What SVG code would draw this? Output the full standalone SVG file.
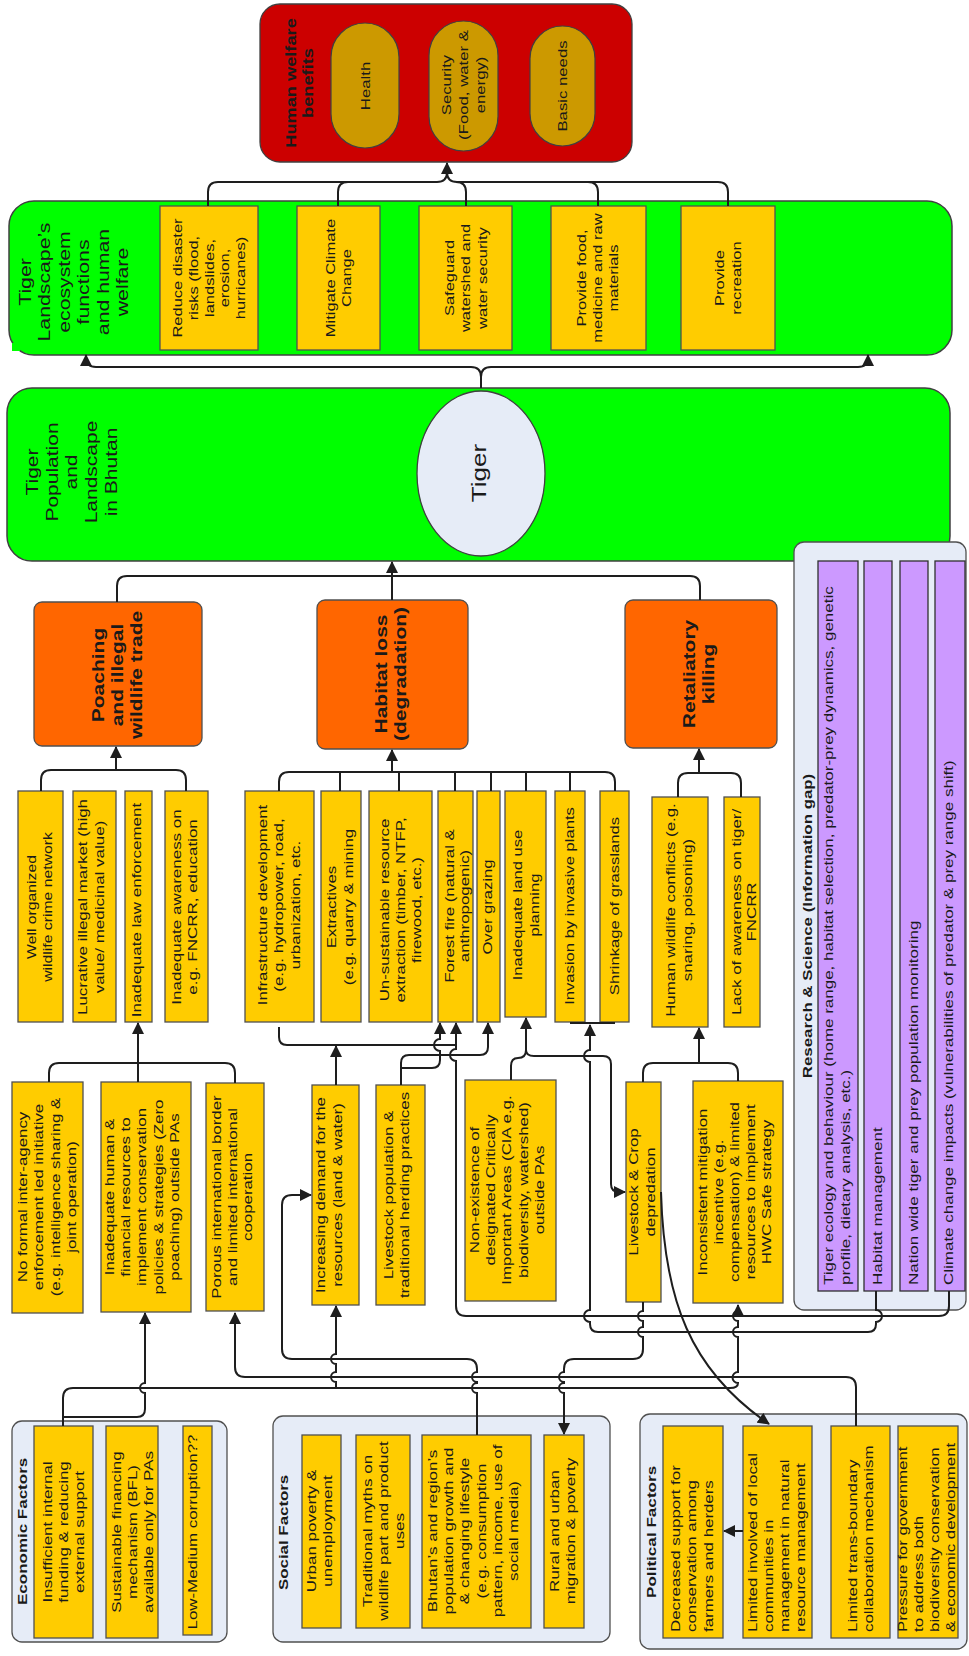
<svg xmlns="http://www.w3.org/2000/svg" width="969" height="1656" viewBox="0 0 969 1656">
<defs>
<marker id="ah" markerUnits="userSpaceOnUse" markerWidth="12" markerHeight="12" viewBox="0 0 12 12" refX="11" refY="6" orient="auto"><path d="M0,0 L12,6 L0,12 z" fill="#1e1e1e"/></marker>
</defs>
<style>
.t{font-family:"Liberation Sans",Arial,sans-serif;fill:#1a1a1a}
.bd{font-weight:bold}
.y{fill:#ffcc00;stroke:#505050;stroke-width:1.3}
.g{fill:#00ff00;stroke:#404040;stroke-width:1.5}
.pan{fill:#e6ecf7;stroke:#505050;stroke-width:1.3}
.o{fill:#ff6600;stroke:#505050;stroke-width:1.3}
.p{fill:#cc99ff;stroke:#303030;stroke-width:1.3}
.pill{fill:#cc9900;stroke:#404040;stroke-width:1.2}
.c{fill:none;stroke:#1e1e1e;stroke-width:2}
.a{marker-end:url(#ah)}
</style>
<rect width="969" height="1656" fill="#ffffff"/>

<!-- Human welfare benefits -->
<g id="human-welfare">
<rect x="260" y="4" width="372" height="158" rx="20" fill="#cc0000" stroke="#404040" stroke-width="1.3"/>
<text class="t bd" font-size="15.2" text-anchor="middle" transform="translate(295.5,83) rotate(-90) scale(1.2,1)"><tspan x="0" y="0">Human welfare</tspan><tspan x="0" y="18">benefits</tspan></text>
<rect class="pill" x="331" y="23" width="68" height="125" rx="34"/>
<text class="t" font-size="13.4" text-anchor="middle" transform="translate(370,86) rotate(-90) scale(1.25,1)">Health</text>
<rect class="pill" x="429" y="21" width="69" height="130" rx="34.5"/>
<text class="t" font-size="13.4" text-anchor="middle" transform="translate(451,85) rotate(-90) scale(1.25,1)"><tspan x="0" y="0">Security</tspan><tspan x="0" y="17">(Food, water &amp;</tspan><tspan x="0" y="34">energy)</tspan></text>
<rect class="pill" x="530" y="26" width="65" height="120" rx="32.5"/>
<text class="t" font-size="13.4" text-anchor="middle" transform="translate(567,86) rotate(-90) scale(1.25,1)">Basic needs</text>
</g>

<!-- Ecosystem functions -->
<g id="ecosystem">
<rect class="g" x="9" y="201" width="943" height="154" rx="25"/>
<rect x="12" y="343" width="8" height="8" fill="#00ff00"/>
<text class="t" font-size="17" text-anchor="middle" transform="translate(31,282) rotate(-90) scale(1.25,1)"><tspan x="0" y="0">Tiger</tspan><tspan x="0" y="19.5">Landscape’s</tspan><tspan x="0" y="39">ecosystem</tspan><tspan x="0" y="58.5">functions</tspan><tspan x="0" y="78">and human</tspan><tspan x="0" y="97.5">welfare</tspan></text>
</g>
<g id="eco-reduce">
<rect class="y" x="160" y="206" width="98" height="144"/>
<text class="t" font-size="13.2" text-anchor="middle" transform="translate(182,278) rotate(-90) scale(1.25,1)"><tspan x="0" y="0">Reduce  disaster</tspan><tspan x="0" y="15.8">risks (flood,</tspan><tspan x="0" y="31.6">landslides,</tspan><tspan x="0" y="47.4">erosion,</tspan><tspan x="0" y="63.2">hurricanes)</tspan></text>
</g>
<g id="eco-climate">
<rect class="y" x="297" y="206" width="83" height="144"/>
<text class="t" font-size="13.2" text-anchor="middle" transform="translate(335,278) rotate(-90) scale(1.25,1)"><tspan x="0" y="0">Mitigate Climate</tspan><tspan x="0" y="16.5">Change</tspan></text>
</g>
<g id="eco-water">
<rect class="y" x="419" y="206" width="93" height="144"/>
<text class="t" font-size="13.2" text-anchor="middle" transform="translate(454,278) rotate(-90) scale(1.25,1)"><tspan x="0" y="0">Safeguard</tspan><tspan x="0" y="16.5">watershed and</tspan><tspan x="0" y="33">water security</tspan></text>
</g>
<g id="eco-food">
<rect class="y" x="551" y="206" width="95" height="144"/>
<text class="t" font-size="13.2" text-anchor="middle" transform="translate(586,278) rotate(-90) scale(1.25,1)"><tspan x="0" y="0">Provide food,</tspan><tspan x="0" y="16">medicine and raw</tspan><tspan x="0" y="32">materials</tspan></text>
</g>
<g id="eco-recreation">
<rect class="y" x="681" y="206" width="94" height="144"/>
<text class="t" font-size="13.2" text-anchor="middle" transform="translate(724,278) rotate(-90) scale(1.25,1)"><tspan x="0" y="0">Provide</tspan><tspan x="0" y="17">recreation</tspan></text>
</g>

<!-- Tiger population -->
<g id="tiger-landscape">
<rect class="g" x="7" y="388" width="943" height="173" rx="25"/>
<text class="t" font-size="16.8" text-anchor="middle" transform="translate(38,472) rotate(-90) scale(1.25,1)"><tspan x="0" y="0">Tiger</tspan><tspan x="0" y="19.7">Population</tspan><tspan x="0" y="39.4">and</tspan><tspan x="0" y="59.1">Landscape</tspan><tspan x="0" y="78.8">in Bhutan</tspan></text>
<ellipse cx="481" cy="473.5" rx="64" ry="82.5" fill="#e6ecf7" stroke="#404040" stroke-width="1.3"/>
<text class="t" font-size="20" text-anchor="middle" transform="translate(486,473) rotate(-90) scale(1.3,1)">Tiger</text>
</g>

<!-- Research & Science -->
<g id="research">
<rect class="pan" x="794" y="542" width="172" height="768" rx="10"/>
<text class="t bd" font-size="13.5" text-anchor="middle" transform="translate(812,926) rotate(-90) scale(1.25,1)">Research &amp; Science (Information gap)</text>
<rect class="p" x="818" y="561" width="40" height="730"/>
<text class="t" font-size="13.6" transform="translate(833,1285) rotate(-90) scale(1.25,1)"><tspan x="0" y="0">Tiger ecology and behaviour (home range, habitat selection, predator-prey dynamics, genetic</tspan><tspan x="0" y="17">profile, dietary analysis, etc.)</tspan></text>
<rect class="p" x="864" y="561" width="28" height="730"/>
<text class="t" font-size="13.6" transform="translate(882,1285) rotate(-90) scale(1.25,1)">Habitat management</text>
<rect class="p" x="900" y="561" width="28" height="730"/>
<text class="t" font-size="13.6" transform="translate(918,1285) rotate(-90) scale(1.25,1)">Nation wide tiger and prey population monitoring</text>
<rect class="p" x="935" y="561" width="30" height="730"/>
<text class="t" font-size="13.6" transform="translate(953,1285) rotate(-90) scale(1.25,1)">Climate change impacts (vulnerabilities of predator &amp; prey range shift)</text>
</g>

<!-- Threats -->
<g id="poaching">
<rect class="o" x="34" y="602" width="168" height="144" rx="8"/>
<text class="t bd" font-size="16.8" text-anchor="middle" transform="translate(103.5,675) rotate(-90) scale(1.25,1)"><tspan x="0" y="0">Poaching</tspan><tspan x="0" y="19.5">and illegal</tspan><tspan x="0" y="39">wildlife trade</tspan></text>
</g>
<g id="habitat-loss">
<rect class="o" x="317" y="600" width="151" height="149" rx="8"/>
<text class="t bd" font-size="16.8" text-anchor="middle" transform="translate(386.5,674) rotate(-90) scale(1.25,1)"><tspan x="0" y="0">Habitat loss</tspan><tspan x="0" y="20">(degradation)</tspan></text>
</g>
<g id="retaliatory">
<rect class="o" x="625" y="600" width="152" height="148" rx="8"/>
<text class="t bd" font-size="16.8" text-anchor="middle" transform="translate(694.5,674) rotate(-90) scale(1.25,1)"><tspan x="0" y="0">Retaliatory</tspan><tspan x="0" y="20">killing</tspan></text>
</g>

<!-- Poaching causes -->
<g id="crime-network">
<rect class="y" x="18" y="791" width="45" height="231"/>
<text class="t" font-size="12.6" text-anchor="middle" transform="translate(36,907) rotate(-90) scale(1.25,1)"><tspan x="0" y="0">Well organized</tspan><tspan x="0" y="16">wildlife crime network</tspan></text>
</g>
<g id="illegal-market">
<rect class="y" x="73" y="791" width="43" height="231"/>
<text class="t" font-size="13.6" text-anchor="middle" transform="translate(87,907) rotate(-90) scale(1.25,1)"><tspan x="0" y="0">Lucrative illegal market (high</tspan><tspan x="0" y="17">value/ medicinal value)</tspan></text>
</g>
<g id="law-enforcement">
<rect class="y" x="125" y="791" width="27" height="231"/>
<text class="t" font-size="13.6" text-anchor="middle" transform="translate(141,910) rotate(-90) scale(1.25,1)">Inadequate law enforcement</text>
</g>
<g id="awareness">
<rect class="y" x="165" y="791" width="43" height="231"/>
<text class="t" font-size="13.6" text-anchor="middle" transform="translate(181,907) rotate(-90) scale(1.25,1)"><tspan x="0" y="0">Inadequate awareness on</tspan><tspan x="0" y="16">e.g. FNCRR, education</tspan></text>
</g>

<!-- Habitat causes -->
<g id="infrastructure">
<rect class="y" x="245" y="791" width="69" height="231"/>
<text class="t" font-size="13.5" text-anchor="middle" transform="translate(267,905) rotate(-90) scale(1.25,1)"><tspan x="0" y="0">Infrastructure development</tspan><tspan x="0" y="16.5">(e.g. hydropower, road,</tspan><tspan x="0" y="33">urbanization, etc.</tspan></text>
</g>
<g id="extractives">
<rect class="y" x="321" y="791" width="40" height="231"/>
<text class="t" font-size="13.5" text-anchor="middle" transform="translate(336,907) rotate(-90) scale(1.25,1)"><tspan x="0" y="0">Extractives</tspan><tspan x="0" y="17.5">(e.g. quarry &amp; mining</tspan></text>
</g>
<g id="extraction">
<rect class="y" x="369" y="791" width="63" height="231"/>
<text class="t" font-size="13.5" text-anchor="middle" transform="translate(389,910) rotate(-90) scale(1.25,1)"><tspan x="0" y="0">Un-sustainable resource</tspan><tspan x="0" y="16">extraction (timber, NTFP,</tspan><tspan x="0" y="32">firewood, etc.)</tspan></text>
</g>
<g id="forest-fire">
<rect class="y" x="438" y="791" width="35" height="231"/>
<text class="t" font-size="13.5" text-anchor="middle" transform="translate(454,906) rotate(-90) scale(1.25,1)"><tspan x="0" y="0">Forest fire (natural &amp;</tspan><tspan x="0" y="15.5">anthropogenic)</tspan></text>
</g>
<g id="over-grazing">
<rect class="y" x="477" y="791" width="23" height="231"/>
<text class="t" font-size="13.3" text-anchor="middle" transform="translate(492,907) rotate(-90) scale(1.25,1)">Over grazing</text>
</g>
<g id="land-use">
<rect class="y" x="505" y="791" width="41" height="226"/>
<text class="t" font-size="13.3" text-anchor="middle" transform="translate(522,905) rotate(-90) scale(1.25,1)"><tspan x="0" y="0">Inadequate land use</tspan><tspan x="0" y="17">planning</tspan></text>
</g>
<g id="invasive">
<rect class="y" x="555" y="791" width="30" height="231"/>
<text class="t" font-size="13.3" text-anchor="middle" transform="translate(574,906) rotate(-90) scale(1.25,1)">Invasion by invasive plants</text>
</g>
<g id="grasslands">
<rect class="y" x="600" y="791" width="29" height="231"/>
<text class="t" font-size="13.3" text-anchor="middle" transform="translate(619,906) rotate(-90) scale(1.25,1)">Shrinkage of grasslands</text>
</g>

<!-- Retaliatory causes -->
<g id="hwc">
<rect class="y" x="652" y="797" width="56" height="230"/>
<text class="t" font-size="13.5" text-anchor="middle" transform="translate(675,910) rotate(-90) scale(1.25,1)"><tspan x="0" y="0">Human wildlife conflicts (e.g.</tspan><tspan x="0" y="17">snaring, poisoning)</tspan></text>
</g>
<g id="lack-awareness">
<rect class="y" x="724" y="797" width="36" height="230"/>
<text class="t" font-size="13.5" text-anchor="middle" transform="translate(741,912) rotate(-90) scale(1.25,1)"><tspan x="0" y="0">Lack of awareness on tiger/</tspan><tspan x="0" y="15">FNCRR</tspan></text>
</g>

<!-- Middle row -->
<g id="no-formal">
<rect class="y" x="12" y="1082" width="71" height="231"/>
<text class="t" font-size="13.5" text-anchor="middle" transform="translate(27,1197) rotate(-90) scale(1.25,1)"><tspan x="0" y="0">No formal inter-agency</tspan><tspan x="0" y="16.3">enforcement led initiative</tspan><tspan x="0" y="32.6">(e.g. intelligence sharing &amp;</tspan><tspan x="0" y="48.9">joint operation)</tspan></text>
</g>
<g id="inadequate-resources">
<rect class="y" x="101" y="1082" width="90" height="230"/>
<text class="t" font-size="13.5" text-anchor="middle" transform="translate(114,1197) rotate(-90) scale(1.25,1)"><tspan x="0" y="0">Inadequate human &amp;</tspan><tspan x="0" y="16.2">financial resources to</tspan><tspan x="0" y="32.4">implement conservation</tspan><tspan x="0" y="48.6">policies &amp; strategies (Zero</tspan><tspan x="0" y="64.8">poaching) outside PAs</tspan></text>
</g>
<g id="porous-border">
<rect class="y" x="206" y="1083" width="58" height="228"/>
<text class="t" font-size="13.5" text-anchor="middle" transform="translate(221,1197) rotate(-90) scale(1.25,1)"><tspan x="0" y="0">Porous international border</tspan><tspan x="0" y="15.7">and limited international</tspan><tspan x="0" y="31.4">cooperation</tspan></text>
</g>
<g id="increasing-demand">
<rect class="y" x="312" y="1085" width="47" height="220"/>
<text class="t" font-size="13.5" text-anchor="middle" transform="translate(325,1195) rotate(-90) scale(1.25,1)"><tspan x="0" y="0">Increasing demand for the</tspan><tspan x="0" y="17">resources (land &amp; water)</tspan></text>
</g>
<g id="livestock-population">
<rect class="y" x="376" y="1085" width="49" height="220"/>
<text class="t" font-size="13.5" text-anchor="middle" transform="translate(393,1195) rotate(-90) scale(1.25,1)"><tspan x="0" y="0">Livestock population &amp;</tspan><tspan x="0" y="16">traditional herding practices</tspan></text>
</g>
<g id="cia">
<rect class="y" x="465" y="1080" width="91" height="221"/>
<text class="t" font-size="13.5" text-anchor="middle" transform="translate(479,1190) rotate(-90) scale(1.25,1)"><tspan x="0" y="0">Non-existence of</tspan><tspan x="0" y="16.2">designated Critically</tspan><tspan x="0" y="32.4">Important Areas (CIA e.g.</tspan><tspan x="0" y="48.6">biodiversity, watershed)</tspan><tspan x="0" y="64.8">outside PAs</tspan></text>
</g>
<g id="depredation">
<rect class="y" x="626" y="1082" width="35" height="220"/>
<text class="t" font-size="13.5" text-anchor="middle" transform="translate(638,1192) rotate(-90) scale(1.25,1)"><tspan x="0" y="0">Livestock &amp; Crop</tspan><tspan x="0" y="17">depredation</tspan></text>
</g>
<g id="mitigation-incentive">
<rect class="y" x="693" y="1081" width="90" height="222"/>
<text class="t" font-size="13.5" text-anchor="middle" transform="translate(707,1192) rotate(-90) scale(1.25,1)"><tspan x="0" y="0">Inconsistent mitigation</tspan><tspan x="0" y="16">incentive (e.g.</tspan><tspan x="0" y="32">compensation) &amp; limited</tspan><tspan x="0" y="48">resources to implement</tspan><tspan x="0" y="64">HWC Safe strategy</tspan></text>
</g>

<!-- Economic factors -->
<g id="economic">
<rect class="pan" x="12" y="1421" width="215" height="221" rx="10"/>
<text class="t bd" font-size="13.6" transform="translate(27,1605) rotate(-90) scale(1.25,1)">Economic Factors</text>
<rect class="y" x="34" y="1426" width="59" height="212"/>
<text class="t" font-size="13.6" text-anchor="middle" transform="translate(52,1532) rotate(-90) scale(1.25,1)"><tspan x="0" y="0">Insufficient internal</tspan><tspan x="0" y="16">funding &amp; reducing</tspan><tspan x="0" y="32">external support</tspan></text>
<rect class="y" x="106" y="1426" width="52" height="212"/>
<text class="t" font-size="13.6" text-anchor="middle" transform="translate(121,1532) rotate(-90) scale(1.25,1)"><tspan x="0" y="0">Sustainable financing</tspan><tspan x="0" y="16">mechanism (BFL)</tspan><tspan x="0" y="32">available only for PAs</tspan></text>
<rect class="y" x="183" y="1426" width="29" height="209"/>
<text class="t" font-size="13.5" text-anchor="middle" transform="translate(197,1532) rotate(-90) scale(1.25,1)">Low-Medium corruption??</text>
</g>

<!-- Social factors -->
<g id="social">
<rect class="pan" x="273" y="1416" width="337" height="226" rx="10"/>
<text class="t bd" font-size="13.5" transform="translate(288,1590) rotate(-90) scale(1.25,1)">Social Factors</text>
<rect class="y" x="302" y="1435" width="39" height="193"/>
<text class="t" font-size="13.6" text-anchor="middle" transform="translate(316,1531) rotate(-90) scale(1.25,1)"><tspan x="0" y="0">Urban poverty &amp;</tspan><tspan x="0" y="16.5">unemployment</tspan></text>
<rect class="y" x="356" y="1435" width="54" height="193"/>
<text class="t" font-size="13.6" text-anchor="middle" transform="translate(372,1531) rotate(-90) scale(1.25,1)"><tspan x="0" y="0">Traditional myths on</tspan><tspan x="0" y="16">wildlife part and product</tspan><tspan x="0" y="32">uses</tspan></text>
<rect class="y" x="422" y="1435" width="109" height="193"/>
<text class="t" font-size="13.6" text-anchor="middle" transform="translate(437,1531) rotate(-90) scale(1.25,1)"><tspan x="0" y="0">Bhutan’s and region’s</tspan><tspan x="0" y="16.2">population growth and</tspan><tspan x="0" y="32.4">&amp; changing lifestyle</tspan><tspan x="0" y="48.6">(e.g. consumption</tspan><tspan x="0" y="64.8">pattern, income, use of</tspan><tspan x="0" y="81">social media)</tspan></text>
<rect class="y" x="544" y="1435" width="40" height="193"/>
<text class="t" font-size="13.6" text-anchor="middle" transform="translate(559,1531) rotate(-90) scale(1.25,1)"><tspan x="0" y="0">Rural and urban</tspan><tspan x="0" y="16">migration &amp; poverty</tspan></text>
</g>

<!-- Political factors -->
<g id="political">
<rect class="pan" x="640" y="1414" width="327" height="235" rx="10"/>
<text class="t bd" font-size="13.7" transform="translate(656,1598) rotate(-90) scale(1.25,1)">Political Factors</text>
<rect class="y" x="663" y="1426" width="60" height="212"/>
<text class="t" font-size="13.5" transform="translate(680,1632) rotate(-90) scale(1.25,1)"><tspan x="0" y="0">Decreased support for</tspan><tspan x="0" y="16.5">conservation among</tspan><tspan x="0" y="33">farmers and herders</tspan></text>
<rect class="y" x="743" y="1426" width="69" height="212"/>
<text class="t" font-size="13.5" transform="translate(757,1632) rotate(-90) scale(1.25,1)"><tspan x="0" y="0">Limited involved of local</tspan><tspan x="0" y="16">communities in</tspan><tspan x="0" y="32">management in natural</tspan><tspan x="0" y="48">resource management</tspan></text>
<rect class="y" x="831" y="1426" width="59" height="212"/>
<text class="t" font-size="13.5" transform="translate(857,1632) rotate(-90) scale(1.25,1)"><tspan x="0" y="0">Limited trans-boundary</tspan><tspan x="0" y="16">collaboration mechanism</tspan></text>
<rect class="y" x="898" y="1426" width="60" height="212"/>
<text class="t" font-size="13.5" transform="translate(907,1632) rotate(-90) scale(1.25,1)"><tspan x="0" y="0">Pressure for government</tspan><tspan x="0" y="16">to address both</tspan><tspan x="0" y="32">biodiversity conservation</tspan><tspan x="0" y="48">&amp; economic development</tspan></text>
</g>

<!-- Connectors -->
<g id="connectors">
<path class="c a" d="M208,206 V192 Q208,182 218,182 H437 Q447,182 447,172 V163"/>
<path class="c" d="M728,206 V192 Q728,182 718,182 H457 Q447,182 447,172"/>
<path class="c" d="M338,206 V192 Q338,182 348,182"/>
<path class="c" d="M466,206 V192 Q466,182 456,182"/>
<path class="c" d="M598,206 V192 Q598,182 588,182"/>

<path class="c a" d="M481,388 V377 Q481,367 471,367 H96 Q86,367 86,357 V355"/>
<path class="c a" d="M481,377 Q481,367 491,367 H858 Q868,367 868,357 V355"/>

<path class="c" d="M117,602 V586 Q117,576 127,576 H690 Q700,576 700,586 V600"/>
<path class="c a" d="M392,600 V562"/>

<path class="c" d="M41,791 V780 Q41,770 51,770 H176 Q186,770 186,780 V791"/>
<path class="c a" d="M116,770 V747"/>

<path class="c" d="M279,791 V782 Q279,772 289,772 H605 Q615,772 615,782 V791 M340,772 V791 M399,772 V791 M455,772 V791 M491,772 V791 M526,772 V791 M570,772 V791"/>
<path class="c a" d="M392,772 V750"/>

<path class="c" d="M678,797 V783 Q678,773 688,773 H731 Q741,773 741,783 V797"/>
<path class="c a" d="M699,773 V749"/>

<path class="c" d="M49,1082 V1073 Q49,1063 59,1063 H225 Q235,1063 235,1073 V1083"/>
<path class="c a" d="M138,1082 V1023"/>

<path class="c" d="M643,1082 V1073 Q643,1063 653,1063 H728 Q738,1063 738,1073 V1081"/>
<path class="c a" d="M699,1063 V1028"/>

<path class="c" d="M279,1027 V1037 Q279,1045 287,1045 H456"/>
<path class="c a" d="M336,1085 V1046"/>
<path class="c a" d="M949,1291 V1306 Q949,1316 939,1316 H466 Q456,1316 456,1306 V1061 A6,6 0 0 1 456,1049 V1023"/>
<path class="c a" d="M876,1291 V1310 A6,6 0 0 1 876,1322 V1324 Q876,1332 868,1332 H598 Q590,1332 590,1324 V1322 A6,6 0 0 1 590,1310 V1062 A6,6 0 0 1 590,1050 V1025"/>
<path class="c" d="M570,1023 H615" stroke-width="2.5"/>
<path class="c a" d="M401,1085 V1063 Q401,1055 409,1055 H480 Q488,1055 488,1047 V1023"/>
<path class="c a" d="M401,1068 H432 Q440,1068 440,1060 V1051 A6,6 0 0 1 440,1039 V1023"/>
<path class="c a" d="M511,1080 V1066 Q511,1058 518,1058 Q526,1058 526,1050 V1018"/>
<path class="c a" d="M526,1050 Q526,1056 534,1056 H603 Q611,1056 611,1064 V1184 Q611,1192 619,1192 H625"/>

<path class="c a" d="M477,1435 V1393 A5,5 0 0 1 477,1383 V1382 A5,5 0 0 1 477,1372 V1369 Q477,1359 467,1359 H292 Q282,1359 282,1349 V1205 Q282,1195 292,1195 H311"/>
<path class="c a" d="M643,1302 V1311 A5,5 0 0 0 643,1321 V1327 A5,5 0 0 0 643,1337 V1349 Q643,1359 633,1359 H574 Q564,1359 564,1369 V1372 A5,5 0 0 0 564,1382 V1383 A5,5 0 0 0 564,1393 V1434"/>
<path class="c a" d="M856,1426 V1387 Q856,1377 846,1377 H245 Q235,1377 235,1367 V1313"/>
<path class="c a" d="M63,1426 V1398 Q63,1388 73,1388 H730 Q738,1388 738,1383 A5,5 0 0 1 738,1372 V1337 A5,5 0 0 1 738,1327 V1321 A5,5 0 0 1 738,1311 V1305"/>
<path class="c a" d="M336,1388 V1382 A5,5 0 0 1 336,1372 V1364 A5,5 0 0 1 336,1354 V1306"/>
<path class="c a" d="M63,1417 H137 Q145,1417 145,1409 V1393 A5,5 0 0 1 145,1383 V1313"/>
<path class="c a" d="M661,1192 C664,1300 690,1370 769,1424"/>
<path class="c a" d="M743,1531 H724"/>
</g>
</svg>
